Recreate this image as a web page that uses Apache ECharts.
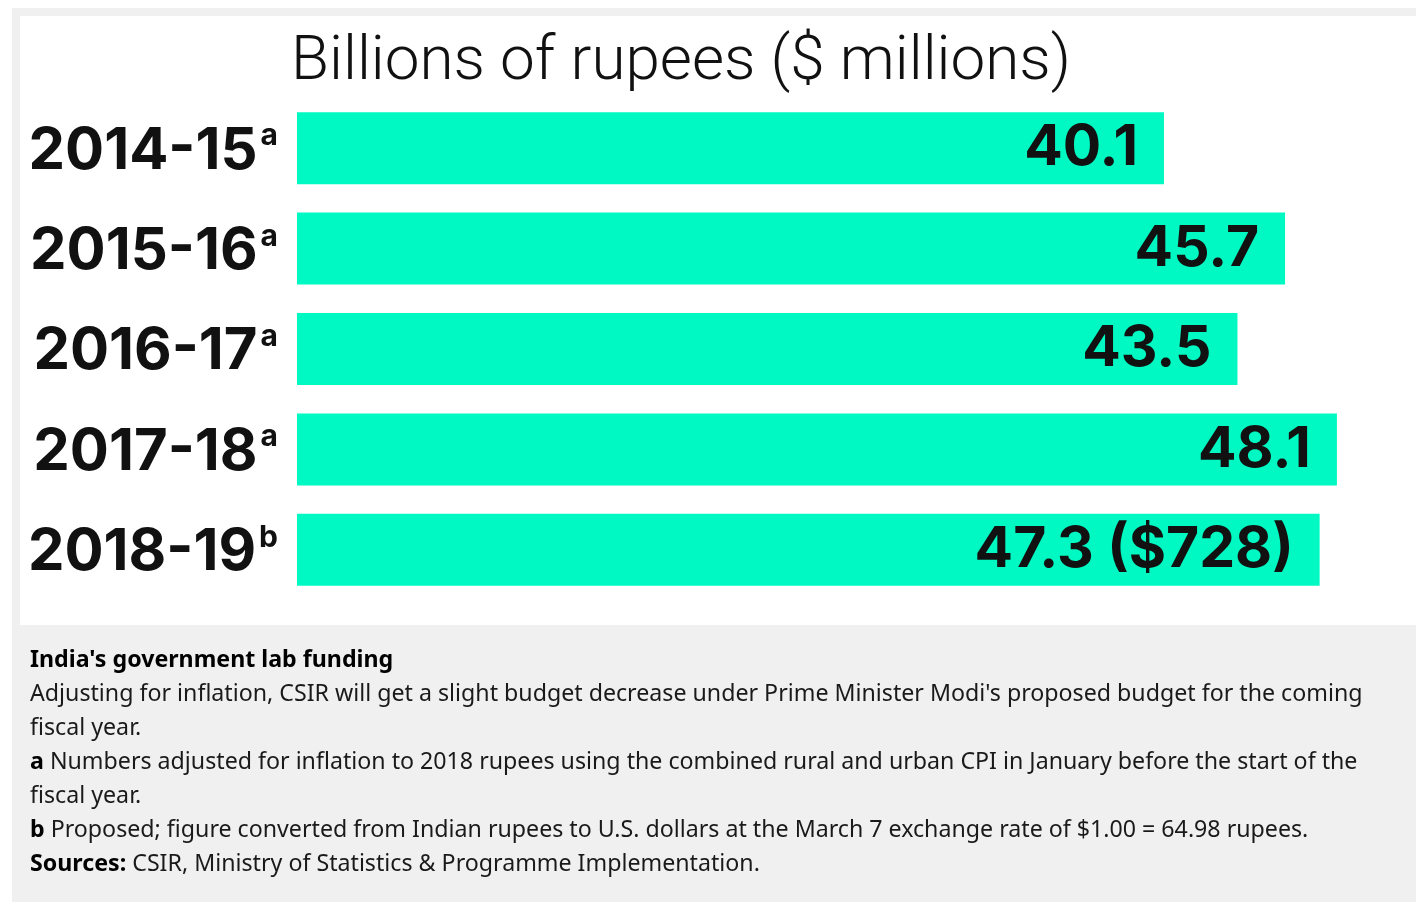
<!DOCTYPE html>
<html>
<head>
<meta charset="utf-8">
<script src="https://cdn.jsdelivr.net/npm/echarts@6/dist/echarts.min.js"></script>
<style>
html,body{margin:0;padding:0;background:#fff;}
#chart{width:1416px;height:902px;}
</style>
</head>
<body>
<div id="chart"></div>
<script>
const categories = ['2014-15', '2015-16', '2016-17', '2017-18', '2018-19'];
const superscripts = ['a', 'a', 'a', 'a', 'b'];
const values = [40.1, 45.7, 43.5, 48.1, 47.3];
const usdMillions = [null, null, null, null, 728];
const titleText = 'Billions of rupees ($ millions)';
const captionTitle = "India's government lab funding";
const captionLines = [
  'Adjusting for inflation, CSIR will get a slight budget decrease under Prime Minister Modi\'s proposed budget for the coming',
  'fiscal year.',
  '{b|a} Numbers adjusted for inflation to 2018 rupees using the combined rural and urban CPI in January before the start of the',
  'fiscal year.',
  '{b|b} Proposed; figure converted from Indian rupees to U.S. dollars at the March 7 exchange rate of $1.00 = 64.98 rupees.',
  '{b|Sources:} CSIR, Ministry of Statistics & Programme Implementation.'
];

const chart = echarts.init(document.getElementById('chart'));
const boldFont = 'Inter';
const capFont = 'Noto Sans';
const capSize = 23.2;
chart.setOption({
  backgroundColor: '#ffffff',
  animation: false,
  title: {
    text: titleText,
    left: 286,
    top: 27,
    textStyle: { fontFamily: 'Roboto', fontWeight: 300, fontSize: 62, color: '#111' }
  },
  graphic: [
    { type: 'rect', z: -20, silent: true, shape: { x: 12, y: 8, width: 1404, height: 894 }, style: { fill: '#f0f0f0' } },
    { type: 'rect', z: -19, silent: true, shape: { x: 20, y: 16, width: 1396, height: 609 }, style: { fill: '#ffffff' } },
    {
      type: 'text', left: 30, top: 643,
      style: {
        text: '{h|' + captionTitle + '}\n' + captionLines.join('\n'),
        fontFamily: capFont, fontSize: capSize, lineHeight: 34, fill: '#1a1a1a',
        rich: {
          h: { fontFamily: capFont, fontWeight: 'bold', fontSize: capSize, lineHeight: 34, fill: '#000' },
          b: { fontFamily: capFont, fontWeight: 'bold', fontSize: capSize, lineHeight: 34, fill: '#000' }
        }
      }
    }
  ],
  grid: { left: 297, right: 38, top: 98, bottom: 302, containLabel: false },
  xAxis: { type: 'value', min: 0, max: 50, show: false },
  yAxis: {
    type: 'category',
    data: categories,
    inverse: true,
    axisLine: { show: false },
    axisTick: { show: false },
    splitLine: { show: false },
    axisLabel: {
      margin: 19,
      formatter: function (v, i) { return '{y|' + v + '}{s|' + superscripts[i] + '}'; },
      rich: {
        y: { fontFamily: boldFont, fontWeight: 700, fontSize: 58, color: '#111', padding: [6, 0, 0, 0] },
        s: { fontFamily: boldFont, fontWeight: 700, fontSize: 30, color: '#111', padding: [0, 0, 24, 3] }
      }
    }
  },
  series: [{
    type: 'bar',
    data: values,
    barWidth: 72,
    itemStyle: { color: '#00F9C2' },
    label: {
      show: true,
      position: 'insideRight',
      distance: 26,
      fontFamily: boldFont,
      fontWeight: 700,
      fontSize: 57,
      color: '#111',
      padding: [8, 0, 0, 0],
      formatter: function (p) {
        const u = usdMillions[p.dataIndex];
        return u == null ? String(p.value) : p.value + ' ($' + u + ')';
      }
    }
  }]
});
</script>
</body>
</html>
